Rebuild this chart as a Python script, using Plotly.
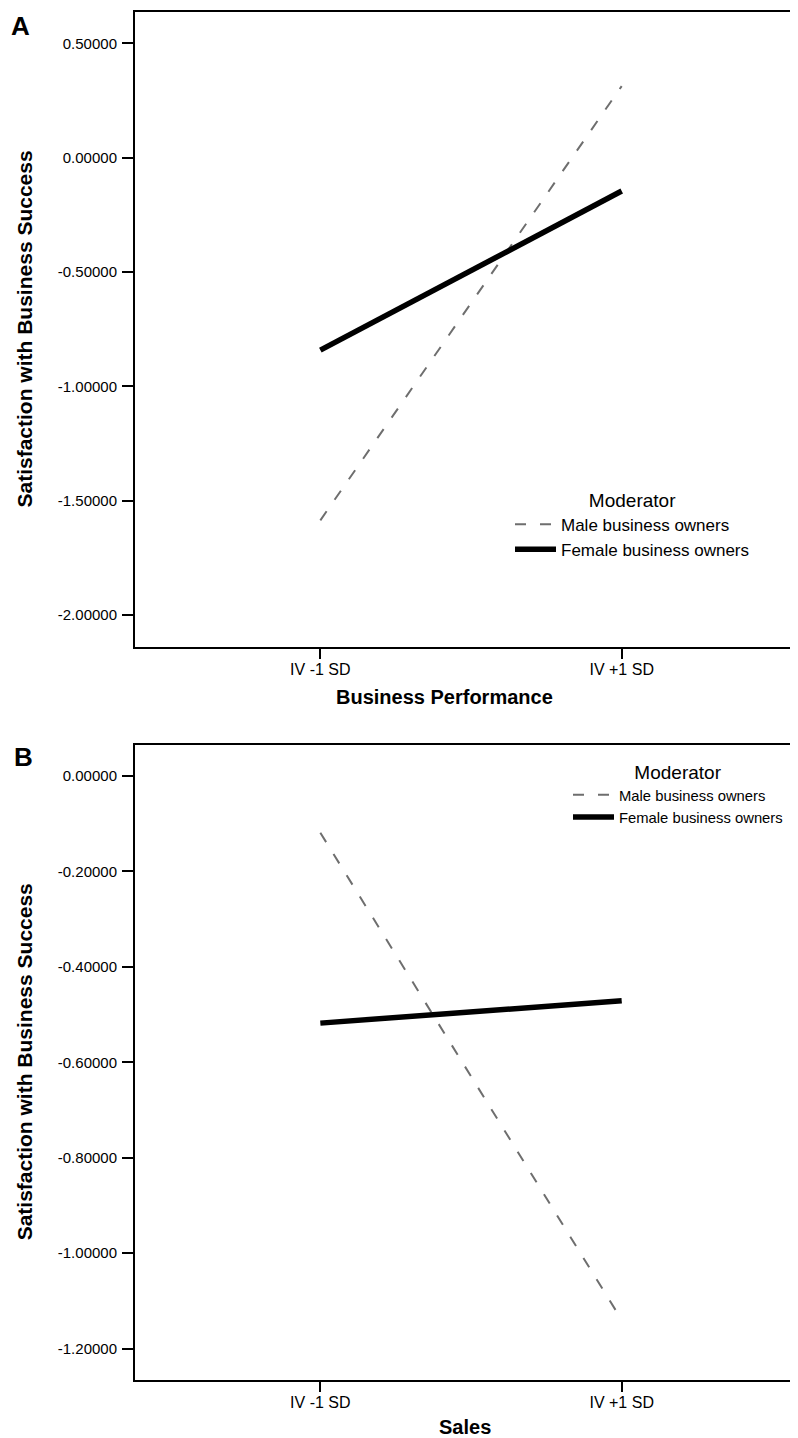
import plotly.graph_objects as go

# ---- data ----
categories = ["IV -1 SD", "IV +1 SD"]
series_names = ["Male business owners", "Female business owners"]

male_a = [-1.586, 0.313]
female_a = [-0.842, -0.146]
male_b = [-0.119, -1.140]
female_b = [-0.518, -0.471]

yticks_a = [0.5, 0.0, -0.5, -1.0, -1.5, -2.0]
yticks_b = [0.0, -0.2, -0.4, -0.6, -0.8, -1.0, -1.2]

x_title_a = "Business Performance"
x_title_b = "Sales"
y_title = "Satisfaction with Business Success"

# page has an 8px body margin; figure occupies the rest of the window
OFF = 8
W, H = 798 - OFF, 1438 - OFF
FONT = "Liberation Sans, Arial, Helvetica, sans-serif"


def PX(x):
    return (x - OFF) / W


def PY(y):
    return 1 - (y - OFF) / H


male_style = dict(color="#6e6e6e", width=2, dash="11px,14px")
female_style = dict(color="#000000", width=5.5)

fig = go.Figure()
fig.add_trace(go.Scatter(x=categories, y=male_a, mode="lines", name=series_names[0],
                         line=male_style, xaxis="x", yaxis="y", legend="legend"))
fig.add_trace(go.Scatter(x=categories, y=female_a, mode="lines", name=series_names[1],
                         line=female_style, xaxis="x", yaxis="y", legend="legend"))
fig.add_trace(go.Scatter(x=categories, y=male_b, mode="lines", name=series_names[0],
                         line=male_style, xaxis="x2", yaxis="y2", legend="legend2"))
fig.add_trace(go.Scatter(x=categories, y=female_b, mode="lines", name=series_names[1],
                         line=female_style, xaxis="x2", yaxis="y2", legend="legend2"))

xdom = [PX(135), 1.0]
ydom_a = [PY(647), PY(12)]
ydom_b = [PY(1380), PY(744.7)]

axis_common = dict(showline=True, linewidth=2, linecolor="black", ticks="outside",
                   tickwidth=2, tickcolor="black", showgrid=False,
                   zeroline=False, automargin=False)


def xaxis(anchor):
    return dict(axis_common, domain=xdom, anchor=anchor, type="category",
                range=[-0.615, 1.585], mirror=True, ticklen=10,
                ticklabelstandoff=-3,
                tickfont=dict(family=FONT, size=16, color="black"))


def yaxis(anchor, dom, rng, ticks):
    return dict(axis_common, domain=dom, anchor=anchor, range=rng, ticklen=11,
                tickmode="array", tickvals=ticks,
                ticktext=[f"{v:.5f}" for v in ticks], ticklabelstandoff=2,
                tickfont=dict(family=FONT, size=15, color="black"))


legend_common = dict(xanchor="left", yanchor="top", bgcolor="rgba(0,0,0,0)",
                     tracegroupgap=0, itemwidth=41)

fig.update_layout(
    width=W, height=H,
    margin=dict(l=0, r=0, t=0, b=0),
    paper_bgcolor="white", plot_bgcolor="white",
    font=dict(family=FONT, color="black"),
    xaxis=xaxis("y"),
    yaxis=yaxis("x", ydom_a, [-2.14, 0.637], yticks_a),
    xaxis2=xaxis("y2"),
    yaxis2=yaxis("x2", ydom_b, [-1.266, 0.0656], yticks_b),
    legend=dict(legend_common, x=PX(510), y=PY(482),
                title=dict(text="Moderator", side="top center",
                           font=dict(family=FONT, size=19, color="black")),
                font=dict(family=FONT, size=17, color="black")),
    legend2=dict(legend_common, x=PX(568), y=PY(754),
                 title=dict(text="Moderator", side="top center",
                            font=dict(family=FONT, size=19, color="black")),
                 font=dict(family=FONT, size=14.8, color="black")),
    showlegend=True,
)

ann = []
ann.append(dict(text="<b>A</b>", x=PX(20), y=PY(8.5), xref="paper", yref="paper",
                showarrow=False, font=dict(family=FONT, size=26, color="black"),
                xanchor="center", yanchor="top"))
ann.append(dict(text="<b>B</b>", x=PX(23), y=PY(756.5), xref="paper", yref="paper",
                showarrow=False, font=dict(family=FONT, size=26, color="black"),
                xanchor="center", yanchor="middle"))
for yc in [(12 + 647) / 2, (744.7 + 1380) / 2]:
    ann.append(dict(text=f"<b>{y_title}</b>", x=PX(24), y=PY(yc),
                    xref="paper", yref="paper", showarrow=False, textangle=-90,
                    font=dict(family=FONT, size=21, color="black"),
                    xanchor="center", yanchor="middle"))
ann.append(dict(text=f"<b>{x_title_a}</b>", x=PX(445), y=PY(697), xref="paper",
                yref="paper", showarrow=False,
                font=dict(family=FONT, size=20, color="black"),
                xanchor="center", yanchor="middle"))
ann.append(dict(text=f"<b>{x_title_b}</b>", x=PX(465), y=PY(1427), xref="paper",
                yref="paper", showarrow=False,
                font=dict(family=FONT, size=20, color="black"),
                xanchor="center", yanchor="middle"))
fig.update_layout(annotations=ann)

fig.write_html("out.html")
